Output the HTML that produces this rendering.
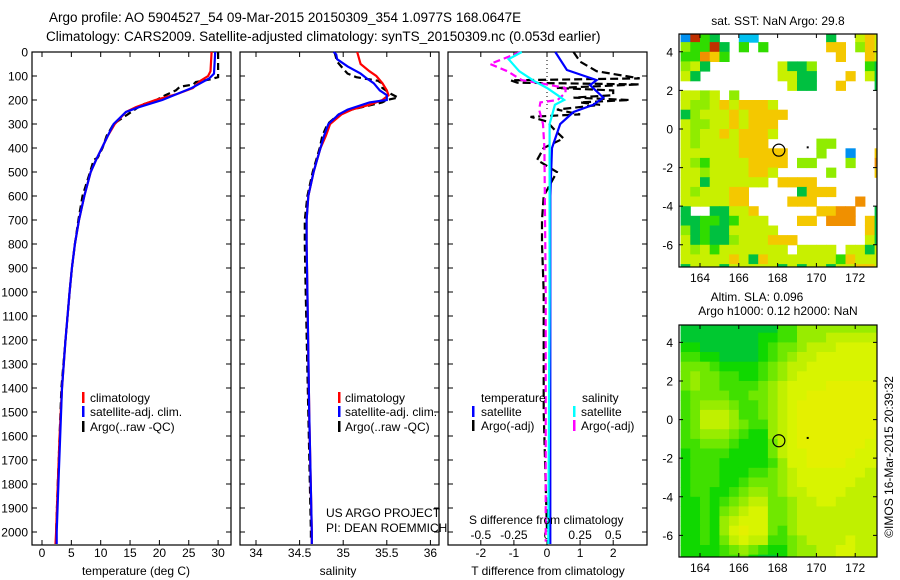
<!DOCTYPE html>
<html><head><meta charset="utf-8">
<style>
html,body{margin:0;padding:0;background:#fff;}
svg{display:block;font-family:"Liberation Sans",sans-serif;}
text{font-size:12px;fill:#000;}
</style></head>
<body>
<svg id="chart" width="900" height="580" viewBox="0 0 900 580" xmlns="http://www.w3.org/2000/svg">
<text x="49" y="22" style="font-size:13.5px">Argo profile: AO 5904527_54 09-Mar-2015 20150309_354 1.0977S 168.0647E</text>
<text x="46" y="41" style="font-size:13.5px">Climatology: CARS2009. Satellite-adjusted climatology: synTS_20150309.nc (0.053d earlier)</text>
<g id="g1"></g><g id="g2"></g><g id="g3"></g><g id="gm1"></g><g id="gm2"></g>
<text x="90" y="402">climatology</text>
<text x="90" y="416">satellite-adj. clim.</text>
<text x="90" y="431">Argo(..raw -QC)</text>
<text x="345" y="402">climatology</text>
<text x="345" y="416">satellite-adj. clim.</text>
<text x="345" y="431">Argo(..raw -QC)</text>
<text x="326" y="517">US ARGO PROJECT</text>
<text x="326" y="532">PI: DEAN ROEMMICH</text>
<text x="481" y="402">temperature</text>
<text x="582" y="402">salinity</text>
<text x="481" y="416">satellite</text>
<text x="481" y="430">Argo(-adj)</text>
<text x="581" y="416">satellite</text>
<text x="581" y="430">Argo(-adj)</text>
<text x="469" y="524">S difference from climatology</text>
<text x="136" y="575" text-anchor="middle">temperature (deg C)</text>
<text x="338" y="575" text-anchor="middle">salinity</text>
<text x="548" y="575" text-anchor="middle">T difference from climatology</text>
<text x="778" y="25" text-anchor="middle">sat. SST: NaN Argo: 29.8</text>
<text x="757" y="301" text-anchor="middle">Altim. SLA: 0.096</text>
<text x="778" y="315" text-anchor="middle">Argo h1000: 0.12 h2000: NaN</text>
<text transform="translate(893,457) rotate(-90)" text-anchor="middle">©IMOS 16-Mar-2015 20:39:32</text>
</svg>
<script>
// ---------- data ----------
const depthTicks=[0,100,200,300,400,500,600,700,800,900,1000,1100,1200,1300,1400,1500,1600,1700,1800,1900,2000];
const tempTicks=[0,5,10,15,20,25,30];
const salTicks=[34,34.5,35,35.5,36];
const salTickLabels=["34","34.5","35","35.5","36"];
const tdiffTicks=[-2,-1,0,1,2];
const sdiffTicks=[-0.5,-0.25,0,0.25,0.5];
const lonTicks=[164,166,168,170,172];
const latTicks=[4,2,0,-2,-4,-6];

const climTempDepth=[0,80,100,120,150,175,200,230,250,300,350,400,450,500,600,700,800,900,1000,1200,1400,1600,1800,2000,2050];
const climTemp=[28.9,28.7,28.3,27,25.7,23,19.3,16,14.3,12.4,11.2,10.2,9.2,8.3,7.2,6.3,5.6,5.1,4.7,4,3.4,3,2.7,2.4,2.3];
const satTempDepth=[0,90,110,130,150,175,200,230,250,300,350,400,450,500,600,700,800,900,1000,1200,1400,1600,1800,2000,2050];
const satTemp=[29.5,29.3,28.5,27,25.5,23,20.5,16.5,14.3,12.2,11.2,10.2,9.2,8.3,7.2,6.3,5.6,5.1,4.7,4,3.4,3.1,2.8,2.5,2.5];
const argoTempDepth=[0,105,115,125,135,145,160,180,200,220,250,300,350,400,440,450,500,600,700,800,900,1000,1200,1400,1600,1800,2000,2040];
const argoTemp=[30.0,30.0,28.5,26.2,25.8,23.5,22.8,21,19.5,17,15.2,12.2,11,10.3,9.5,8.8,8.2,6.9,6.2,5.6,5.1,4.7,4,3.3,3,2.7,2.4,2.4];

const climSalDepth=[0,50,80,100,130,160,180,200,220,240,260,300,350,400,450,500,600,700,800,1000,1500,2000,2050];
const climSal=[35.16,35.2,35.3,35.38,35.45,35.5,35.52,35.45,35.3,35.1,34.98,34.85,34.8,34.74,34.7,34.66,34.6,34.58,34.58,34.59,34.61,34.64,34.64];
const satSalDepth=[0,10,30,60,90,110,130,160,180,200,210,240,260,300,350,400,450,500,600,700,800,1000,1500,2000,2050];
const satSal=[34.89,34.92,34.93,35.05,35.2,35.27,35.35,35.42,35.5,35.5,35.3,35.05,34.95,34.83,34.78,34.74,34.7,34.66,34.6,34.58,34.58,34.59,34.61,34.64,34.64];
const argoSalDepth=[0,40,70,90,105,120,125,130,150,175,190,200,210,240,260,300,350,400,450,500,600,700,800,1000,1500,2000,2040];
const argoSal=[34.9,34.93,35.0,35.05,35.15,35.4,35.42,35.45,35.45,35.55,35.63,35.5,35.45,35.1,34.95,34.82,34.76,34.73,34.69,34.65,34.59,34.56,34.56,34.57,34.6,34.63,34.63];

const tdSatDepth=[0,75,117,138,190,220,250,300,400,600,1000,1500,2050];
const tdSat=[0.25,0.6,1.5,1.3,1.7,1.4,0.8,0.4,0.15,0.1,0.1,0.1,0.1];
const tdArgoDepth=[0,40,80,110,118,128,135,150,160,180,190,200,210,220,240,260,270,290,320,360,400,450,500,550,600,700,800,1000,1500,2000];
const tdArgo=[0.8,1.0,1.5,2.8,-1.1,-0.9,2.8,0.3,2.0,2.0,0.8,2.5,1.0,1.6,0.3,1.0,-0.5,0.0,0.2,0.5,-0.1,-0.3,0.3,0.1,-0.1,-0.15,-0.15,-0.1,-0.1,0];
const sdSatDepth=[0,30,80,120,150,180,200,220,260,300,600,1000,2050];
const sdSat=[-0.19,-0.29,-0.21,-0.1,0,0.08,0.13,0.06,0.04,0.02,0.02,0.02,0.01];
const sdArgoDepth=[0,50,80,117,130,150,170,200,210,240,300,400,1000,2000,2040];
const sdArgo=[-0.2,-0.43,-0.3,-0.19,-0.05,0.14,0.14,0.08,-0.05,-0.06,-0.03,-0.02,-0.01,-0.01,-0.01];

// SST grid: rows lat 5 -> -7 step 0.5, cols lon 163 -> step 0.5
const sstRows=[
"brgG..cc.......G..yay","lggrG.g.g......aa.lay","ggoag...........a..ay","lyG.......yGGl.....gG",
"yG........yyGG...a.yG","...........yGG..a...G","yyly.l...............","yllyayaaay...........",
"Glyyyayaaaa..........","yllyyayaaa...........","ylyyayaaay...........","ylyyyyaaa.....ll.....",
"yyyyyyaaaaa...l..b..a","ylgyyyyaaaa.ll...l..o","yylyyyyaay.....l....a","yyGyyyyyy.aaaa.......",
"ylyyyaa.....Gaaa.....","yyyyyaa....aaa....o..","G..GGyya......aaoo..G","GGggGgyyy...aa.ooo.aG",
"lGgGGyyyyy.........aG","yGgGGlyyyaaa.......yG","ylygyyyyyyy.yyyy.yyGy","yyyyyayGayyyyyyygayyy",
"GyyyGyyyyyGyGyyGyyaay"];
const slaRows=[
"000000000022444444444","000000001122444555555","110000001233455566666","221100001234556666666",
"333211112345566666666","343322112345666666666","343322223456666777776","233332233456677777776",
"234443223456777777777","235554223456777777777","235554322456777777777","234443211456777777776",
"223332111356777777766","122221111356677777666","122211111246677776666","122211122345666666655",
"122211233345666666555","122112344345566665555","112123455334556655555","112134566334555555555",
"112145666334555555555","112146766324555555555","112135655223455556555","111123432113445566555",
"111122310013445566555"];
const argoLon=168.0647, argoLat=-1.0977;

// ---------- helpers ----------
const NS="http://www.w3.org/2000/svg";
function mk(parent,tag,attrs){const e=document.createElementNS(NS,tag);for(const k in attrs)e.setAttribute(k,attrs[k]);parent.appendChild(e);return e;}
const top0=52,bot0=545;
const yD=d=>top0+d*0.24;
const xT=v=>42+v*5.87;
const xS=v=>256+(v-34)*87.2;
const xTD=v=>547+v*33.1;
const xSD=v=>547+v*132.4;

function panelFrame(g,l,r,name,leftLabels){
  const f=mk(g,'rect',{x:l,y:top0,width:r-l,height:bot0-top0,fill:'none',stroke:'#000','stroke-width':1.2});
  
  
  depthTicks.forEach(d=>{
    const y=yD(d);
    const t=mk(g,'path',{d:`M${l},${y}h5M${r},${y}h-5`,stroke:'#000','stroke-width':1});
    
    
    if(leftLabels){
      const tx=mk(g,'text',{x:l-4,y:y+4.5,'text-anchor':'end'});tx.textContent=d;
      
      
    }
  });
}
function xTicks(g,vals,labels,fx,name,labelY){
  vals.forEach((v,i)=>{
    const x=fx(v);
    const t=mk(g,'path',{d:`M${x},${bot0}v-5M${x},${top0}v5`,stroke:'#000','stroke-width':1});
    
    
    const tx=mk(g,'text',{x:x,y:labelY,'text-anchor':'middle'});tx.textContent=labels[i];
    
    
  });
}
function line(g,ds,vs,fx,color,dash,name){
  const pts=ds.map((d,i)=>fx(vs[i]).toFixed(1)+','+yD(d).toFixed(1)).join(' ');
  const p=mk(g,'polyline',{points:pts,fill:'none',stroke:color,'stroke-width':2.2,'stroke-dasharray':dash||'none'});
  
  
}
function legBar(g,x,y,color,name){
  const b=mk(g,'rect',{x:x,y:y,width:2.5,height:11,fill:color});
  
  
}

// panel 1
const g1=document.getElementById('g1');
panelFrame(g1,32,231,'temperature-panel',true);
xTicks(g1,tempTicks,tempTicks.map(String),xT,'temperature',557);
line(g1,argoTempDepth,argoTemp,xT,'#000','7,4','argo-temperature-line');
line(g1,climTempDepth,climTemp,xT,'#f00',null,'climatology-temperature-line');
line(g1,satTempDepth,satTemp,xT,'#00f',null,'satellite-temperature-line');
legBar(g1,82,392,'#f00','legend-swatch-climatology');
legBar(g1,82,406,'#00f','legend-swatch-satellite');
legBar(g1,82,421,'#000','legend-swatch-argo');

// panel 2
const g2=document.getElementById('g2');
panelFrame(g2,240,439,'salinity-panel',false);
xTicks(g2,salTicks,salTickLabels,xS,'salinity',557);
line(g2,argoSalDepth,argoSal,xS,'#000','7,4','argo-salinity-line');
line(g2,climSalDepth,climSal,xS,'#f00',null,'climatology-salinity-line');
line(g2,satSalDepth,satSal,xS,'#00f',null,'satellite-salinity-line');
legBar(g2,338,392,'#f00','legend-swatch-climatology');
legBar(g2,338,406,'#00f','legend-swatch-satellite');
legBar(g2,338,421,'#000','legend-swatch-argo');

// panel 3
const g3=document.getElementById('g3');
panelFrame(g3,448,647,'difference-panel',false);
xTicks(g3,tdiffTicks,tdiffTicks.map(String),xTD,'t-difference',557);
sdiffTicks.forEach(v=>{
  const tx=mk(g3,'text',{x:xSD(v),y:539,'text-anchor':'middle'});tx.textContent=String(v);
  
  
});
const zl=mk(g3,'line',{x1:547,y1:top0,x2:547,y2:110,stroke:'#000','stroke-width':1,'stroke-dasharray':'1,3'});


line(g3,tdArgoDepth,tdArgo,xTD,'#000','8,4','argo-t-difference-line');
line(g3,sdArgoDepth,sdArgo,xSD,'#f0f','7,4','argo-s-difference-line');
line(g3,tdSatDepth,tdSat,xTD,'#00f',null,'satellite-t-difference-line');
line(g3,sdSatDepth,sdSat,xSD,'#0ff',null,'satellite-s-difference-line');
legBar(g3,472,406,'#00f','legend-swatch-t-satellite');
legBar(g3,472,420,'#000','legend-swatch-t-argo');
legBar(g3,573,406,'#0ff','legend-swatch-s-satellite');
legBar(g3,573,420,'#f0f','legend-swatch-s-argo');

// maps
const sstColors={G:'#00c040',g:'#30dc00',l:'#90ec00',y:'#c8f000',Y:'#e8e800',a:'#f4c800',o:'#f09000',r:'#c03000',b:'#0090f0',c:'#00c0f0'};
const slaColors=['#00c830','#10d800','#40e000','#70e800','#98ec00','#c0f000','#d8f400','#e4f000','#ece000','#f0d000'];
function drawMap(g,top,bottom,rows,colorFn,name){
  const L=679,R=877;
  const lat0y=top+(bottom-top)*(4.92/12.07);
  const fx=lon=>700+(lon-164)*19.4;
  const fy=lat=>lat0y-lat*19.3;
  const cid='clip'+name;
  const cp=mk(g,'clipPath',{id:cid});mk(cp,'rect',{x:L,y:top,width:R-L,height:bottom-top});
  const cg=mk(g,'g',{'clip-path':`url(#${cid})`});
  rows.forEach((row,ri)=>{
    const lat=5-ri*0.5;
    for(let ci=0;ci<row.length;ci++){
      const col=colorFn(row[ci]); if(!col) continue;
      const lon=163+ci*0.5;
      const r=mk(cg,'rect',{x:fx(lon).toFixed(1),y:fy(lat).toFixed(1),width:10.2,height:10.2,fill:col});
      
      
    }
  });
  const fr=mk(g,'rect',{x:L,y:top,width:R-L,height:bottom-top,fill:'none',stroke:'#000','stroke-width':1.2});
  
  
  lonTicks.forEach(v=>{
    const x=fx(v);
    const t=mk(g,'path',{d:`M${x},${bottom}v-4M${x},${top}v4`,stroke:'#000'});
    
    
    const tx=mk(g,'text',{x:x,y:bottom+15,'text-anchor':'middle'});tx.textContent=v;
    
    
  });
  latTicks.forEach(v=>{
    const y=fy(v);
    const t=mk(g,'path',{d:`M${L},${y}h4M${R},${y}h-4`,stroke:'#000'});
    
    
    const tx=mk(g,'text',{x:L-6,y:y+4.5,'text-anchor':'end'});tx.textContent=v;
    
    
  });
  const c=mk(g,'circle',{cx:fx(argoLon),cy:fy(argoLat),r:6,fill:'none',stroke:'#000','stroke-width':1.2});
  
  
  const d=mk(g,'rect',{x:fx(169.5),y:fy(-0.9),width:2,height:2,fill:'#000'});
  
  
}
drawMap(document.getElementById('gm1'),34,267,sstRows,ch=>sstColors[ch]||null,'sst-map');
drawMap(document.getElementById('gm2'),325,557,slaRows,ch=>slaColors[+ch],'sla-map');
</script>
</body></html>
